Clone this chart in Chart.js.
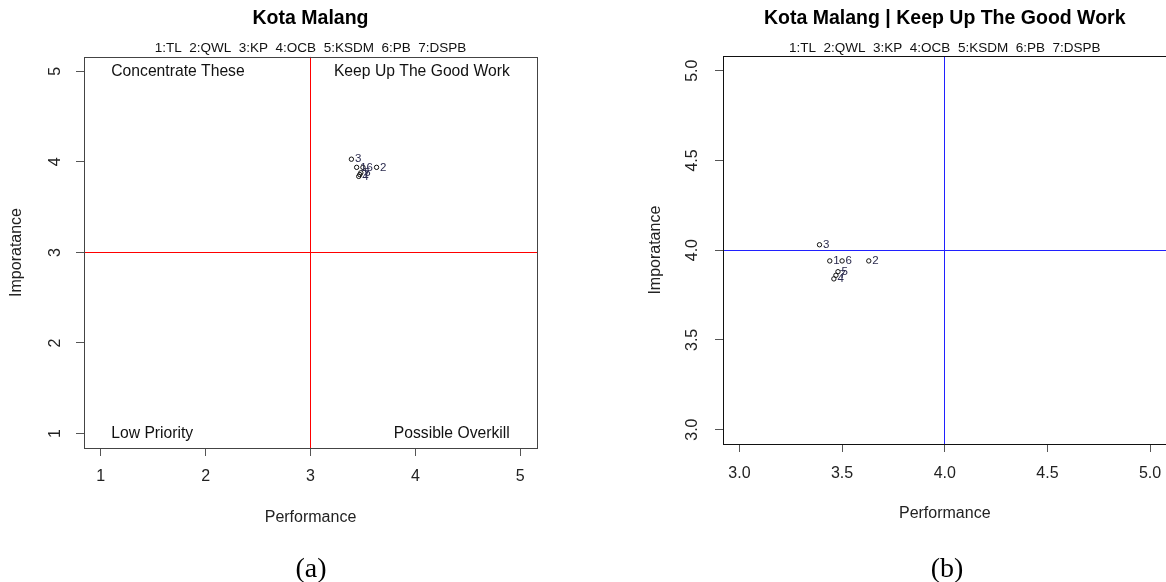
<!DOCTYPE html>
<html>
<head>
<meta charset="utf-8">
<script src="https://cdn.jsdelivr.net/npm/chart.js@4.4.1/dist/chart.umd.min.js"></script>
<style>
  html, body { margin: 0; padding: 0; background: #fff; overflow: hidden; width: 1166px; height: 582px; position: relative; }
  .panel { position: absolute; top: 0; width: 600px; height: 582px; }
  .cap { position: absolute; top: 552px; width: 100px; line-height: 32px; text-align: center; font-family: 'Liberation Serif', 'Times New Roman', serif; font-size: 28px; color: #000; }
</style>
</head>
<body>
<div class="panel" style="left:0"><canvas id="chartA"></canvas></div>
<div class="panel" style="left:600px"><canvas id="chartB"></canvas></div>
<div class="cap" style="left:261px">(a)</div>
<div class="cap" style="left:897px">(b)</div>
<script>
// Variables (indicator codes, numbered 1..7)
const codes = ['TL', 'QWL', 'KP', 'OCB', 'KSDM', 'PB', 'DSPB']
const performance = [3.44, 3.63, 3.39, 3.46, 3.48, 3.50, 3.47]
const importance = [3.94, 3.94, 4.03, 3.84, 3.88, 3.94, 3.86]

// Axis ticks and quadrant cut-offs
const ticksA = [1, 2, 3, 4, 5]
const ticksB = [3.0, 3.5, 4.0, 4.5, 5.0]
const cutA = 3
const cutB = 4
const quadrantNotes = ['Concentrate These', 'Keep Up The Good Work', 'Low Priority', 'Possible Overkill']

const legendLine = codes.map((c, i) => `${i + 1}:${c}`).join('  ')
const points = performance.map((p, i) => ({ x: p, y: importance[i] }))

Chart.defaults.font.family = "'Liberation Sans', Arial, sans-serif"
Chart.defaults.color = '#222'

// Cut lines, point numbers, quadrant notes and the box
const ipaPlugin = {
  id: 'ipa',
  afterDraw (chart, args, opts) {
    const { ctx, chartArea: a, scales: { x, y } } = chart
    ctx.save()

    // Cut lines (abline style)
    ctx.strokeStyle = opts.lineColor
    ctx.lineWidth = 1
    const cx = Math.floor(x.getPixelForValue(opts.cut)) + 0.5
    const cy = Math.floor(y.getPixelForValue(opts.cut)) + 0.5
    ctx.beginPath()
    ctx.moveTo(cx, a.top)
    ctx.lineTo(cx, a.bottom)
    ctx.moveTo(a.left, cy)
    ctx.lineTo(a.right, cy)
    ctx.stroke()

    // Point numbers
    ctx.fillStyle = '#2a2a4e'
    ctx.font = "11.5px 'Liberation Sans', Arial, sans-serif"
    ctx.textAlign = 'left'
    ctx.textBaseline = 'middle'
    chart.getDatasetMeta(0).data.forEach((pt, i) => {
      ctx.fillText(String(i + 1), pt.x + 3.5, pt.y)
    })

    // Quadrant notes
    if (opts.notes) {
      ctx.fillStyle = '#111'
      ctx.font = "15.7px 'Liberation Sans', Arial, sans-serif"
      const [lo, hi] = opts.notesX
      const [top, bottom] = opts.notesY
      ctx.textAlign = 'left'
      ctx.fillText(opts.notes[0], x.getPixelForValue(lo), y.getPixelForValue(top))
      ctx.fillText(opts.notes[2], x.getPixelForValue(lo), y.getPixelForValue(bottom))
      ctx.textAlign = 'right'
      ctx.fillText(opts.notes[1], x.getPixelForValue(hi), y.getPixelForValue(top))
      ctx.fillText(opts.notes[3], x.getPixelForValue(hi), y.getPixelForValue(bottom))
    }

    // Box
    ctx.strokeStyle = opts.frameColor
    ctx.strokeRect(Math.round(a.left) + 0.5, Math.round(a.top) + 0.5, Math.round(a.right - a.left), Math.round(a.bottom - a.top))
    ctx.restore()
  }
}

const axisGrid = { drawOnChartArea: false, drawTicks: true, tickLength: 8, color: '#555' }

const ipaChart = (el, cfg) => new Chart(el, {
  type: 'scatter',
  data: {
    datasets: [{
      data: points,
      pointRadius: 2.2,
      pointHoverRadius: 2.2,
      borderWidth: 1,
      borderColor: '#111',
      backgroundColor: 'rgba(0,0,0,0)'
    }]
  },
  options: {
    responsive: true,
    maintainAspectRatio: false,
    animation: false,
    events: [],
    layout: { padding: { left: 0, right: cfg.padRight, top: 0, bottom: 0 } },
    scales: {
      x: {
        type: 'linear',
        min: cfg.range[0],
        max: cfg.range[1],
        afterBuildTicks: s => { s.ticks = cfg.ticks.map(v => ({ value: v })) },
        afterFit: s => { s.height = cfg.xHeight },
        grid: axisGrid,
        border: { display: false },
        ticks: { font: { size: 16 }, padding: cfg.xTickPad, maxRotation: 0, autoSkip: false, callback: cfg.fmt },
        title: { display: true, text: 'Performance', font: { size: 16 }, padding: { top: 0, bottom: cfg.xTitlePad } }
      },
      y: {
        type: 'linear',
        min: cfg.range[0],
        max: cfg.range[1],
        afterBuildTicks: s => { s.ticks = cfg.ticks.map(v => ({ value: v })) },
        afterFit: s => { s.width = cfg.yWidth },
        grid: axisGrid,
        border: { display: false },
        ticks: { font: { size: 16 }, padding: cfg.yTickPad, minRotation: 90, maxRotation: 90, crossAlign: 'center', autoSkip: false, callback: cfg.fmt },
        title: { display: true, text: 'Imporatance', font: { size: 16 }, padding: { top: cfg.yTitlePad, bottom: 0 } }
      }
    },
    plugins: {
      legend: { display: false },
      tooltip: { enabled: false },
      title: {
        display: true,
        fullSize: false,
        text: cfg.title,
        color: '#000',
        font: { size: 19.5, weight: 'bold' },
        padding: { top: 7.3, bottom: 2 }
      },
      subtitle: {
        display: true,
        fullSize: false,
        text: legendLine,
        color: '#111',
        font: { size: 13.5 },
        padding: { top: 7.4, bottom: cfg.subPad }
      },
      ipa: {
        cut: cfg.cut,
        lineColor: cfg.lineColor,
        frameColor: cfg.frameColor,
        notes: cfg.notes,
        notesX: [1.1, 4.9],
        notesY: [5, 1]
      }
    }
  },
  plugins: [ipaPlugin]
})

// Panel (a): full 1-5 scale with quadrant notes
ipaChart(document.querySelector('#chartA'), {
  title: 'Kota Malang',
  range: [0.84, 5.16],
  ticks: ticksA,
  fmt: v => String(v),
  cut: cutA,
  lineColor: '#ff0000',
  frameColor: '#444',
  notes: quadrantNotes,
  padRight: 63,
  xHeight: 134,
  xTickPad: 11.4,
  xTitlePad: 54.4,
  yWidth: 84,
  yTickPad: 15.7,
  yTitlePad: 7.4,
  subPad: 0.6
})

// Panel (b): zoom on the 3-5 range
ipaChart(document.querySelector('#chartB'), {
  title: 'Kota Malang | Keep Up The Good Work',
  range: [2.92, 5.08],
  ticks: ticksB,
  fmt: v => Number(v).toFixed(1),
  cut: cutB,
  lineColor: '#2020ff',
  frameColor: '#111',
  notes: null,
  padRight: 33.5,
  xHeight: 138,
  xTickPad: 12.4,
  xTitlePad: 58.4,
  yWidth: 123,
  yTickPad: 10.8,
  yTitlePad: 46.4,
  subPad: 0
})
</script>
</body>
</html>
